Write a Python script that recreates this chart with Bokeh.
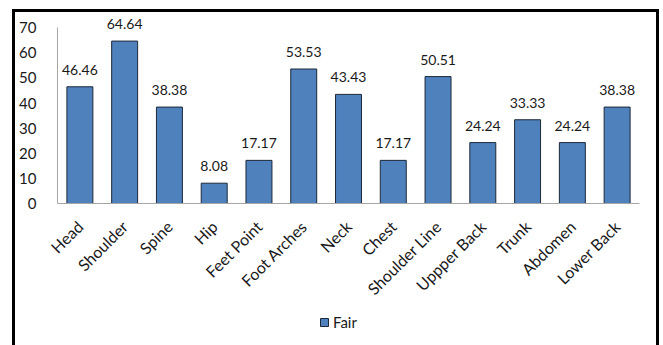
from bokeh.plotting import figure
from bokeh.layouts import column
from bokeh.models import (ColumnDataSource, LabelSet, Legend, LegendItem,
                          InlineStyleSheet, Range1d)
from bokeh.core.properties import value
from bokeh.embed import file_html
from bokeh.resources import INLINE
import math

# Posture regions and share of "Fair" ratings (%)
regions = ["Head", "Shoulder", "Spine", "Hip", "Feet Point", "Foot Arches", "Neck",
           "Chest", "Shoulder Line", "Uppper Back", "Trunk", "Abdomen", "Lower Back"]
fair = [46.46, 64.64, 38.38, 8.08, 17.17, 53.53, 43.43,
        17.17, 50.51, 24.24, 33.33, 24.24, 38.38]
y_ticks = [0, 10, 20, 30, 40, 50, 60, 70]
series_name = "Fair"

FONT = "Lato"
TEXT = "#1a1a1a"
BAR = "#4F81BD"
EDGE = "#1c2838"

src = ColumnDataSource(dict(region=regions, fair=fair,
                            label=["%.2f" % v for v in fair]))

# heavy frame drawn around the whole chart (open at the bottom edge)
frame_css = InlineStyleSheet(css="""
:host::after {
  content: "";
  position: absolute;
  left: 12px; top: 9px; width: 647px; height: 336px;
  border: 3px solid #000; border-bottom: none;
  box-sizing: border-box; pointer-events: none;
}
""")

p = figure(x_range=regions, y_range=(0, 80), width=663, height=310,
           output_backend="svg", toolbar_location=None,
           min_border_left=57, min_border_right=24, min_border_top=2,
           min_border_bottom=107)

p.vbar(x="region", top="fair", width=0.58, source=src,
       fill_color=BAR, line_color=EDGE, line_width=1)

p.add_layout(LabelSet(x="region", y="fair", text="label", source=src,
                      text_align="center", text_baseline="bottom",
                      y_offset=12, text_font=value(FONT), text_font_size="14px",
                      text_color=TEXT))

p.xgrid.grid_line_color = None
p.ygrid.grid_line_color = None
p.outline_line_color = None
p.x_range.range_padding = 0

p.yaxis.ticker = y_ticks
p.yaxis.bounds = (0, 70)
for ax in (p.xaxis[0], p.yaxis[0]):
    ax.axis_line_color = "#a6a6a6"
    ax.major_tick_line_color = None
    ax.minor_tick_line_color = None
    ax.major_label_text_font = FONT
    ax.major_label_text_color = TEXT
p.yaxis.major_label_text_font_size = "15px"
p.xaxis.major_label_text_font_size = "16px"
p.yaxis.major_label_standoff = 15
p.xaxis.major_label_orientation = math.pi / 4
p.xaxis.major_label_standoff = 14

# legend strip under the chart; its bars lie below the visible range,
# so only the legend swatch shows
leg = figure(width=663, height=35, x_range=regions, y_range=Range1d(200, 300),
             x_axis_type=None, y_axis_type=None, output_backend="svg",
             toolbar_location=None, min_border=0)
leg.outline_line_color = None
leg.xgrid.visible = False
leg.ygrid.visible = False
swatch = leg.vbar(x="region", top="fair", width=0.58, source=src,
                  fill_color=BAR, line_color=EDGE, line_width=1)
leg.add_layout(Legend(items=[LegendItem(label=series_name, renderers=[swatch])],
                      location=(262, 14), orientation="horizontal",
                      label_text_font=FONT, label_text_font_size="15px",
                      label_text_color=TEXT, glyph_width=10, glyph_height=10,
                      label_standoff=4, padding=0, margin=0,
                      border_line_color=None, background_fill_alpha=0))

layout = column(p, leg, spacing=0, stylesheets=[frame_css])

open("out.html", "w").write(file_html(layout, INLINE))
